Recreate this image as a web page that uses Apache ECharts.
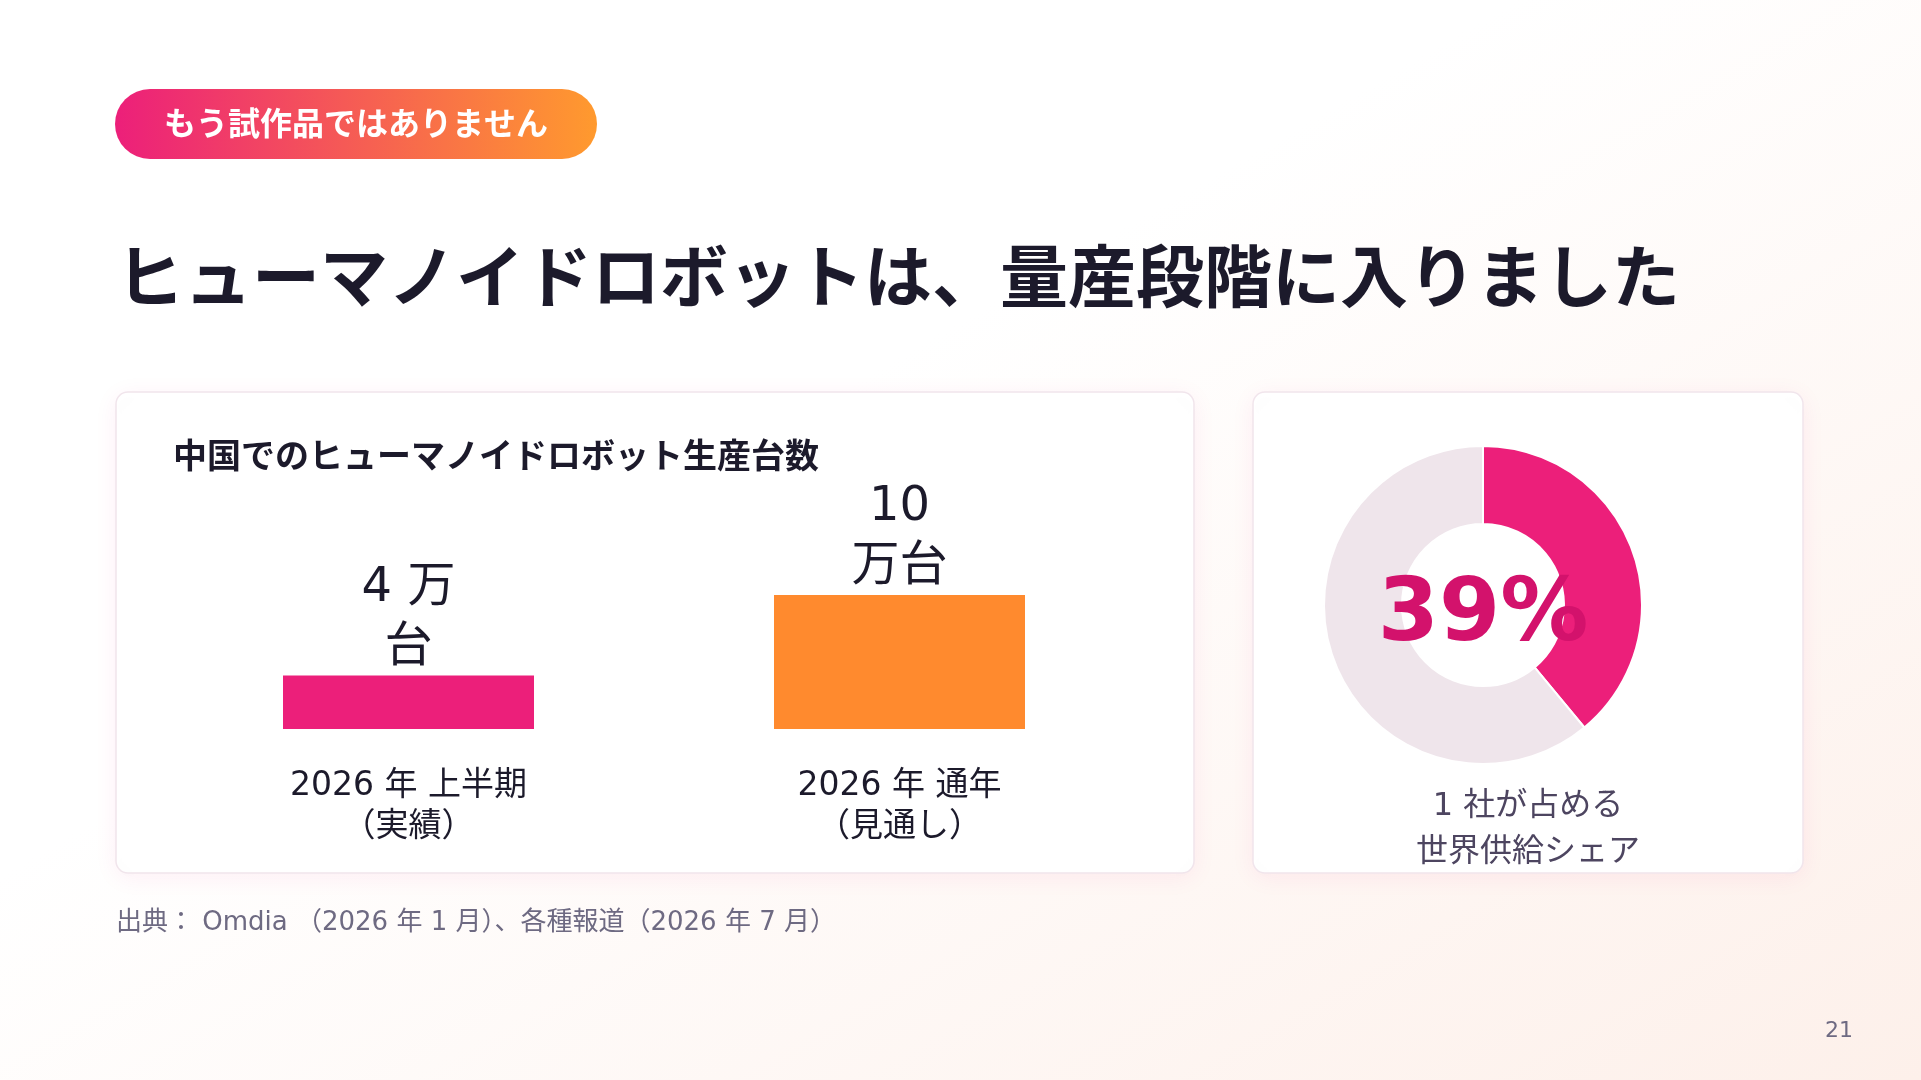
<!DOCTYPE html>
<html>
<head>
<meta charset="utf-8">
<script src="https://cdn.jsdelivr.net/npm/echarts@6/dist/echarts.min.js"></script>
<style>
html,body{margin:0;padding:0;}
#main{width:1921px;height:1080px;background:linear-gradient(150deg,#ffffff 0%,#ffffff 40%,#fdf0ea 100%);}
</style>
</head>
<body>
<div id="main"></div>
<script>
// data
var categories = ['2026 年 上半期\n（実績）', '2026 年 通年\n（見通し）'];
var units = [4, 10];               // 万台
var unitLabels = ['4 万\n台', '10\n万台'];
var barColors = ['#ec1f7a', '#ff8a2e'];
var shareNames = ['1 社', 'その他'];
var shareValues = [39, 61];

var FONT = '"DejaVu Sans", "Noto Sans CJK JP", sans-serif';
var chart = echarts.init(document.getElementById('main'));

var barData = [];
for (var i = 0; i < units.length; i++) {
  barData.push({ value: units[i], itemStyle: { color: barColors[i] } });
}

var card = function (x, y, w, h) {
  return {
    type: 'rect', z: 0,
    shape: { x: x, y: y, width: w, height: h, r: 12 },
    style: {
      fill: '#ffffff', stroke: '#f1e5ec', lineWidth: 1.5,
      shadowBlur: 24, shadowColor: 'rgba(236,31,122,0.07)', shadowOffsetY: 4
    }
  };
};

var option = {
  animation: false,
  textStyle: { fontFamily: FONT },
  graphic: [
    {
      type: 'rect', z: 0,
      shape: { x: 115, y: 89, width: 482, height: 70, r: 35 },
      style: {
        fill: new echarts.graphic.LinearGradient(0, 0, 1, 0, [
          { offset: 0, color: '#ec1f7a' },
          { offset: 1, color: '#ff9a2e' }
        ])
      }
    },
    {
      type: 'text', z: 1, x: 356, y: 127,
      style: {
        text: 'もう試作品ではありません', fill: '#ffffff', font: 'bold 32px ' + FONT,
        textAlign: 'center', textVerticalAlign: 'middle'
      }
    },
    {
      type: 'text', z: 1, x: 116, y: 284,
      style: {
        text: 'ヒューマノイドロボットは、量産段階に入りました', fill: '#1c1a2b',
        font: 'bold 68px ' + FONT, textAlign: 'left', textVerticalAlign: 'middle'
      }
    },
    card(116, 392, 1078, 481),
    card(1253, 392, 550, 481),
    {
      type: 'text', z: 1, x: 173, y: 459,
      style: {
        text: '中国でのヒューマノイドロボット生産台数', fill: '#1c1a2b',
        font: 'bold 34px ' + FONT, textAlign: 'left', textVerticalAlign: 'middle'
      }
    },
    {
      type: 'text', z: 3, x: 1528, y: 830,
      style: {
        text: '1 社が占める\n世界供給シェア', fill: '#4d4560',
        font: '32px ' + FONT, lineHeight: 46, textAlign: 'center', textVerticalAlign: 'middle'
      }
    },
    {
      type: 'text', z: 1, x: 116, y: 923,
      style: {
        text: '出典： Omdia （2026 年 1 月）、各種報道（2026 年 7 月）', fill: '#6e6a82',
        font: '26px ' + FONT, textAlign: 'left', textVerticalAlign: 'middle'
      }
    },
    {
      type: 'text', z: 1, x: 1853, y: 1031,
      style: {
        text: '21', fill: '#6e6a82', font: '22px ' + FONT,
        textAlign: 'right', textVerticalAlign: 'middle'
      }
    }
  ],
  grid: { left: 163, width: 982, top: 595, height: 134 },
  xAxis: {
    type: 'category', data: categories,
    axisLine: { show: false }, axisTick: { show: false },
    axisLabel: {
      margin: 37, fontSize: 33, lineHeight: 41, color: '#1c1a2b', fontFamily: FONT
    }
  },
  yAxis: {
    type: 'value', min: 0, max: 10, show: false, splitLine: { show: false }
  },
  series: [
    {
      type: 'bar', z: 2, data: barData, barWidth: 251, silent: true,
      label: {
        show: true, position: 'top', distance: -3,
        fontSize: 48, lineHeight: 60, color: '#1c1a2b', fontFamily: FONT,
        formatter: function (p) { return unitLabels[p.dataIndex]; }
      }
    },
    {
      type: 'pie', z: 2, silent: true,
      center: [1483, 605], radius: [81, 159],
      startAngle: 90, clockwise: true,
      itemStyle: { borderColor: '#ffffff', borderWidth: 2 },
      label: { show: false }, labelLine: { show: false },
      emphasis: { disabled: true },
      data: [
        {
          name: shareNames[0], value: shareValues[0], itemStyle: { color: '#ec1f7a' },
          label: {
            show: true, position: 'center', formatter: '{c}%',
            fontSize: 88, fontWeight: 'bold', color: '#d3126c', fontFamily: FONT, offset: [0, 12]
          }
        },
        { name: shareNames[1], value: shareValues[1], itemStyle: { color: '#efe5eb' } }
      ]
    }
  ]
};
chart.setOption(option);
</script>
</body>
</html>
